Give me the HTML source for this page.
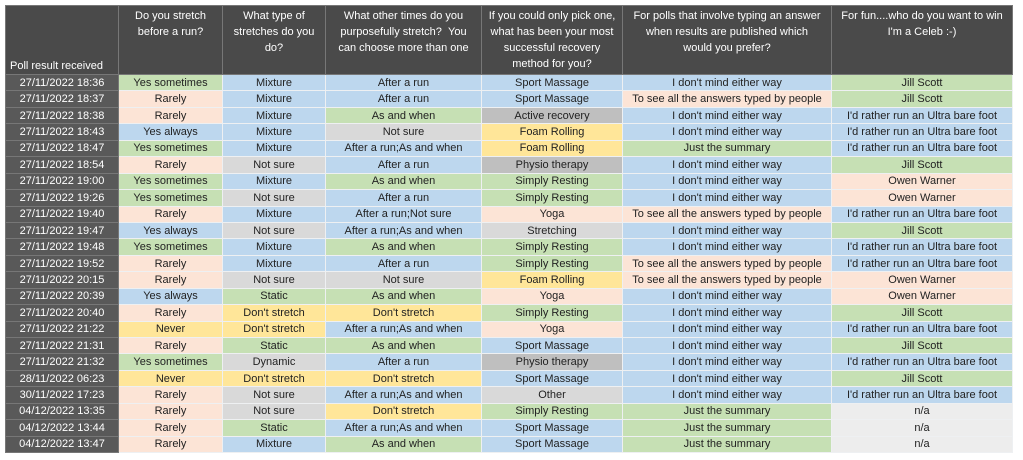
<!DOCTYPE html>
<html><head><meta charset="utf-8"><style>
body{margin:0;background:#fff;width:1023px;height:460px;overflow:hidden}
table{position:absolute;left:5px;top:5px;border-collapse:collapse;table-layout:fixed;font-family:"Liberation Sans",sans-serif;font-size:11px;color:#222}
td{padding:0;text-align:center;white-space:nowrap;overflow:hidden;border:1px solid #eef0f2;height:15.45px;line-height:14px}
tr.h td{height:66px;background:#4a4a4a;color:#fff;white-space:nowrap;vertical-align:top;line-height:16px;padding-top:2px;border-color:#777;font-size:11px}
tr.h td:first-child{vertical-align:bottom;padding:0 0 0 4px;text-align:left}
td.d{background:#595959;color:#fff;border-color:#777}
.g{background:#c6e0b4}.b{background:#bdd7ee}.p{background:#fce4d6}.y{background:#ffe699}.s{background:#d9d9d9}.k{background:#bfbfbf}.n{background:#ededed}
</style></head><body>
<table>
<colgroup><col style="width:113px"><col style="width:104px"><col style="width:103px"><col style="width:156px"><col style="width:141px"><col style="width:209px"><col style="width:181px"></colgroup>
<tr class="h"><td>Poll result received</td><td>Do you stretch<br>before a run?</td><td>What type of<br>stretches do you<br>do?</td><td>What other times do you<br>purposefully stretch? &nbsp;You<br>can choose more than one</td><td>If you could only pick one,<br>what has been your most<br>successful recovery<br>method for you?</td><td>For polls that involve typing an answer<br>when results are published which<br>would you prefer?</td><td>For fun....who do you want to win<br>I'm a Celeb :-)</td></tr>
<tr><td class="d">27/11/2022 18:36</td><td class="g">Yes sometimes</td><td class="b">Mixture</td><td class="b">After a run</td><td class="b">Sport Massage</td><td class="b">I don't mind either way</td><td class="g">Jill Scott</td></tr>
<tr><td class="d">27/11/2022 18:37</td><td class="p">Rarely</td><td class="b">Mixture</td><td class="b">After a run</td><td class="b">Sport Massage</td><td class="p">To see all the answers typed by people</td><td class="g">Jill Scott</td></tr>
<tr><td class="d">27/11/2022 18:38</td><td class="p">Rarely</td><td class="b">Mixture</td><td class="g">As and when</td><td class="k">Active recovery</td><td class="b">I don't mind either way</td><td class="b">I'd rather run an Ultra bare foot</td></tr>
<tr><td class="d">27/11/2022 18:43</td><td class="b">Yes always</td><td class="b">Mixture</td><td class="s">Not sure</td><td class="y">Foam Rolling</td><td class="b">I don't mind either way</td><td class="b">I'd rather run an Ultra bare foot</td></tr>
<tr><td class="d">27/11/2022 18:47</td><td class="g">Yes sometimes</td><td class="b">Mixture</td><td class="b">After a run;As and when</td><td class="y">Foam Rolling</td><td class="g">Just the summary</td><td class="b">I'd rather run an Ultra bare foot</td></tr>
<tr><td class="d">27/11/2022 18:54</td><td class="p">Rarely</td><td class="s">Not sure</td><td class="b">After a run</td><td class="k">Physio therapy</td><td class="b">I don't mind either way</td><td class="g">Jill Scott</td></tr>
<tr><td class="d">27/11/2022 19:00</td><td class="g">Yes sometimes</td><td class="b">Mixture</td><td class="g">As and when</td><td class="g">Simply Resting</td><td class="b">I don't mind either way</td><td class="p">Owen Warner</td></tr>
<tr><td class="d">27/11/2022 19:26</td><td class="g">Yes sometimes</td><td class="s">Not sure</td><td class="b">After a run</td><td class="g">Simply Resting</td><td class="b">I don't mind either way</td><td class="p">Owen Warner</td></tr>
<tr><td class="d">27/11/2022 19:40</td><td class="p">Rarely</td><td class="b">Mixture</td><td class="b">After a run;Not sure</td><td class="p">Yoga</td><td class="p">To see all the answers typed by people</td><td class="b">I'd rather run an Ultra bare foot</td></tr>
<tr><td class="d">27/11/2022 19:47</td><td class="b">Yes always</td><td class="s">Not sure</td><td class="b">After a run;As and when</td><td class="s">Stretching</td><td class="b">I don't mind either way</td><td class="g">Jill Scott</td></tr>
<tr><td class="d">27/11/2022 19:48</td><td class="g">Yes sometimes</td><td class="b">Mixture</td><td class="g">As and when</td><td class="g">Simply Resting</td><td class="b">I don't mind either way</td><td class="b">I'd rather run an Ultra bare foot</td></tr>
<tr><td class="d">27/11/2022 19:52</td><td class="p">Rarely</td><td class="b">Mixture</td><td class="b">After a run</td><td class="g">Simply Resting</td><td class="p">To see all the answers typed by people</td><td class="b">I'd rather run an Ultra bare foot</td></tr>
<tr><td class="d">27/11/2022 20:15</td><td class="p">Rarely</td><td class="s">Not sure</td><td class="s">Not sure</td><td class="y">Foam Rolling</td><td class="p">To see all the answers typed by people</td><td class="p">Owen Warner</td></tr>
<tr><td class="d">27/11/2022 20:39</td><td class="b">Yes always</td><td class="g">Static</td><td class="g">As and when</td><td class="p">Yoga</td><td class="b">I don't mind either way</td><td class="p">Owen Warner</td></tr>
<tr><td class="d">27/11/2022 20:40</td><td class="p">Rarely</td><td class="y">Don't stretch</td><td class="y">Don't stretch</td><td class="g">Simply Resting</td><td class="b">I don't mind either way</td><td class="g">Jill Scott</td></tr>
<tr><td class="d">27/11/2022 21:22</td><td class="y">Never</td><td class="y">Don't stretch</td><td class="b">After a run;As and when</td><td class="p">Yoga</td><td class="b">I don't mind either way</td><td class="b">I'd rather run an Ultra bare foot</td></tr>
<tr><td class="d">27/11/2022 21:31</td><td class="p">Rarely</td><td class="g">Static</td><td class="g">As and when</td><td class="b">Sport Massage</td><td class="b">I don't mind either way</td><td class="g">Jill Scott</td></tr>
<tr><td class="d">27/11/2022 21:32</td><td class="g">Yes sometimes</td><td class="s">Dynamic</td><td class="b">After a run</td><td class="k">Physio therapy</td><td class="b">I don't mind either way</td><td class="b">I'd rather run an Ultra bare foot</td></tr>
<tr><td class="d">28/11/2022 06:23</td><td class="y">Never</td><td class="y">Don't stretch</td><td class="y">Don't stretch</td><td class="b">Sport Massage</td><td class="b">I don't mind either way</td><td class="g">Jill Scott</td></tr>
<tr><td class="d">30/11/2022 17:23</td><td class="p">Rarely</td><td class="s">Not sure</td><td class="b">After a run;As and when</td><td class="s">Other</td><td class="b">I don't mind either way</td><td class="b">I'd rather run an Ultra bare foot</td></tr>
<tr><td class="d">04/12/2022 13:35</td><td class="p">Rarely</td><td class="s">Not sure</td><td class="y">Don't stretch</td><td class="g">Simply Resting</td><td class="g">Just the summary</td><td class="n">n/a</td></tr>
<tr><td class="d">04/12/2022 13:44</td><td class="p">Rarely</td><td class="g">Static</td><td class="b">After a run;As and when</td><td class="b">Sport Massage</td><td class="g">Just the summary</td><td class="n">n/a</td></tr>
<tr><td class="d">04/12/2022 13:47</td><td class="p">Rarely</td><td class="b">Mixture</td><td class="g">As and when</td><td class="b">Sport Massage</td><td class="g">Just the summary</td><td class="n">n/a</td></tr>
</table>
</body></html>
